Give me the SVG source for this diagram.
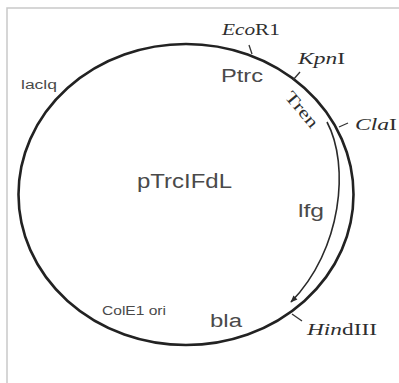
<svg xmlns="http://www.w3.org/2000/svg" width="399" height="383" viewBox="0 0 399 383">
  <style>
    .frame { fill: #ffffff; stroke: #c9c9c9; stroke-width: 1.5; }
    .backbone { fill: none; stroke: #222222; stroke-width: 2.6; }
    .tick { fill: none; stroke: #333333; stroke-width: 1.3; }
    .gene { fill: none; stroke: #2a2a2a; stroke-width: 1.6; }
    .sans { font-family: "Liberation Sans", "DejaVu Sans", sans-serif; fill: #4a4a4a; }
    .serif { font-family: "Liberation Serif", "Times New Roman", serif; fill: #2e2e2e; font-size: 17px; }
    .it { font-style: italic; }
  </style>
  <defs>
    <marker id="arrowhead" viewBox="0 0 10 10" refX="9" refY="5" markerWidth="8" markerHeight="7" markerUnits="userSpaceOnUse" orient="auto">
      <path d="M0,1 L10,5 L0,9 Z" fill="#2a2a2a"/>
    </marker>
  </defs>

  <!-- page frame -->
  <rect class="frame" x="7" y="8" width="420" height="400"/>

  <!-- plasmid backbone -->
  <g id="backbone">
    <ellipse class="backbone" cx="186" cy="194.5" rx="167.5" ry="150.5"/>
  </g>

  <!-- site ticks and the lfg reading-direction arrow -->
  <g id="connectors">
    <line class="tick" x1="249" y1="45" x2="252" y2="54"/>
    <line class="tick" x1="293" y1="80" x2="300" y2="72"/>
    <line class="tick" x1="339" y1="127" x2="348" y2="123"/>
    <line class="tick" x1="292" y1="314" x2="302" y2="321"/>
    <path class="gene" d="M327,122 C350,165 342,250 291,302" marker-end="url(#arrowhead)"/>
  </g>

  <g id="EcoR1"><text class="serif" x="222" y="35" textLength="58" lengthAdjust="spacingAndGlyphs"><tspan class="it">Eco</tspan>R1</text></g>
  <g id="KpnI"><text class="serif" x="298" y="64" textLength="47" lengthAdjust="spacingAndGlyphs"><tspan class="it">Kpn</tspan>I</text></g>
  <g id="ClaI"><text class="serif" x="355" y="130" textLength="42" lengthAdjust="spacingAndGlyphs"><tspan class="it">Cla</tspan>I</text></g>
  <g id="HindIII"><text class="serif" x="307" y="335" textLength="70" lengthAdjust="spacingAndGlyphs"><tspan class="it">Hin</tspan>dIII</text></g>
  <g id="Tren"><text class="serif" font-size="17" transform="translate(284,97) rotate(50)" textLength="42" lengthAdjust="spacingAndGlyphs">Tren</text></g>

  <g id="Ptrc"><text class="sans" x="221" y="82" font-size="18" textLength="42" lengthAdjust="spacingAndGlyphs">Ptrc</text></g>
  <g id="laclq"><text class="sans" x="21" y="89" font-size="12" textLength="36" lengthAdjust="spacingAndGlyphs">laclq</text></g>
  <g id="pTrcIFdL"><text class="sans" x="137" y="188" font-size="21" textLength="95" lengthAdjust="spacingAndGlyphs">pTrcIFdL</text></g>
  <g id="lfg"><text class="sans" x="298" y="217" font-size="18" textLength="26" lengthAdjust="spacingAndGlyphs">lfg</text></g>
  <g id="ColE1ori"><text class="sans" x="102" y="315" font-size="13" textLength="64" lengthAdjust="spacingAndGlyphs">ColE1 ori</text></g>
  <g id="bla"><text class="sans" x="210" y="327" font-size="18" textLength="32" lengthAdjust="spacingAndGlyphs">bla</text></g>
</svg>
